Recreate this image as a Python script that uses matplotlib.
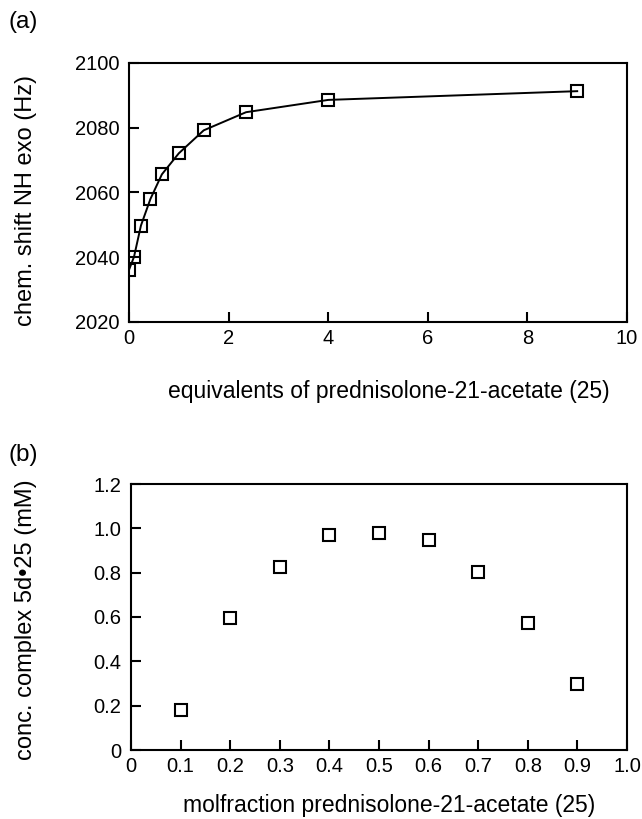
import matplotlib
matplotlib.use("Agg")
from matplotlib import pyplot as plt

# (a) titration
equiv = [0, 0.1, 0.24, 0.43, 0.66, 1.0, 1.5, 2.35, 4.0, 9.0]
shift_hz = [2036.1, 2040.1, 2049.8, 2058.0, 2065.6, 2072.1, 2079.2, 2084.8, 2088.6, 2091.3]

# (b) job plot
molfrac = [0.1, 0.2, 0.3, 0.4, 0.5, 0.6, 0.7, 0.8, 0.9]
conc_mm = [0.179, 0.594, 0.827, 0.971, 0.977, 0.947, 0.803, 0.571, 0.298]

xticks_b = [0, 0.1, 0.2, 0.3, 0.4, 0.5, 0.6, 0.7, 0.8, 0.9, 1.0]
xlabels_b = ["0", "0.1", "0.2", "0.3", "0.4", "0.5", "0.6", "0.7", "0.8", "0.9", "1.0"]
yticks_b = [0, 0.2, 0.4, 0.6, 0.8, 1.0, 1.2]
ylabels_b = ["0", "0.2", "0.4", "0.6", "0.8", "1.0", "1.2"]

plt.rcParams['font.family'] = ['Liberation Sans', 'DejaVu Sans']

fig = plt.figure(figsize=(6.42, 8.19), dpi=100)
ax1 = fig.add_axes([129 / 642, 1 - 322 / 819, 498 / 642, 259 / 819])
ax2 = fig.add_axes([131 / 642, 1 - 750 / 819, 496 / 642, 266 / 819])

mk = dict(marker="s", markersize=8.5, markerfacecolor="none",
          markeredgecolor="black", markeredgewidth=1.5)

ax1.plot(equiv, shift_hz, color="black", linewidth=1.4, **mk)
ax1.set_xlim(0, 10)
ax1.set_ylim(2020, 2100)
ax1.set_xticks(range(0, 11, 2))
ax1.set_yticks(range(2020, 2101, 20))
ax1.set_xlabel("equivalents of prednisolone-21-acetate (25)", fontsize=16.5)
ax1.set_ylabel("chem. shift NH exo (Hz)", fontsize=17)
ax1.xaxis.set_label_coords(0.522, -0.225)
ax1.yaxis.set_label_coords(-0.185, 0.47)

ax2.plot(molfrac, conc_mm, linestyle="none", **mk)
ax2.set_xlim(0, 1.0)
ax2.set_ylim(0, 1.2)
ax2.set_xticks(xticks_b, xlabels_b)
ax2.set_yticks(yticks_b, ylabels_b)
ax2.set_xlabel("molfraction prednisolone-21-acetate (25)", fontsize=16.5)
ax2.set_ylabel("conc. complex 5d\u202225 (mM)", fontsize=17)
ax2.xaxis.set_label_coords(0.52, -0.165)
ax2.yaxis.set_label_coords(-0.19, 0.49)

for ax in (ax1, ax2):
    for s in ax.spines.values():
        s.set_linewidth(1.5)
    ax.tick_params(direction="in", length=7, width=1.5, labelsize=14.5)
    ax.tick_params(axis="y", pad=7)
    ax.tick_params(axis="x", pad=5)

fig.text(8 / 642, 1 - 22 / 819, "(a)", fontsize=17.5, va="center", ha="left")
fig.text(8 / 642, 1 - 455 / 819, "(b)", fontsize=17.5, va="center", ha="left")

fig.savefig("out.png", dpi=100)
